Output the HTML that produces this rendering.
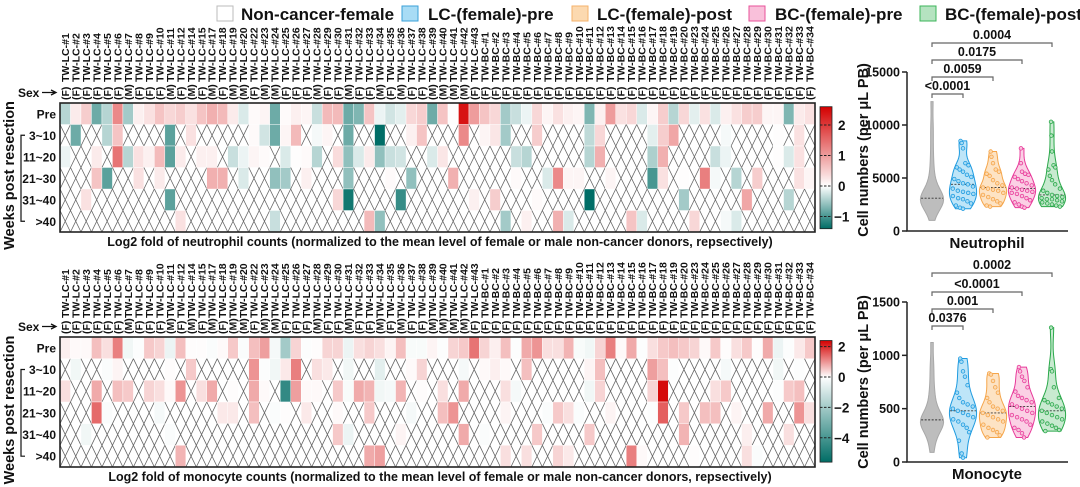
<!DOCTYPE html>
<html><head><meta charset="utf-8">
<style>
html,body{margin:0;padding:0;background:#fff;}
svg{display:block;font-family:"Liberation Sans",Arial,sans-serif;}
text{font-weight:bold;fill:#111;}
</style></head>
<body>
<svg id="fig" width="1080" height="487" viewBox="0 0 1080 487" xmlns="http://www.w3.org/2000/svg">
  <g id="legend">
    <g><rect x="217" y="6" width="16" height="15" fill="#fff" stroke="#bbb"/><text x="241" y="20" font-size="17">Non-cancer-female</text></g>
    <g><rect x="402" y="6" width="16" height="15" fill="#a8dcf5" stroke="#3aa0d8"/><text x="428" y="20" font-size="17">LC-(female)-pre</text></g>
    <g><rect x="572" y="6" width="16" height="15" fill="#fcd9b0" stroke="#f5b26b"/><text x="597" y="20" font-size="17">LC-(female)-post</text></g>
    <g><rect x="749" y="6" width="16" height="15" fill="#f9c0da" stroke="#e8529a"/><text x="775" y="20" font-size="17">BC-(female)-pre</text></g>
    <g><rect x="920" y="6" width="16" height="15" fill="#b5e3c0" stroke="#3cb55a"/><text x="945" y="20" font-size="17">BC-(female)-post</text></g>
  </g>
  <g id="hm1"></g>
  <g id="hm2"></g>
  <g id="v1"></g>
  <g id="v2"></g>
</svg>
<script>
// ---------- categories ----------
const lcIds=[1,2,3,4,5,6,7,8,9,10,11,12,14,15,17,18,19,20,22,23,24,25,26,27,28,29,30,31,32,33,34,35,36,37,38,39,40,41,42,43];
const bcIds=[1,2,3,4,5,6,7,8,9,10,11,12,13,14,15,16,17,18,19,20,23,24,25,26,27,28,29,30,31,32,33,34];
const lcSex="FFFFFFMFFFMFMFMFMMFMMFFFMFFMFFMFMFFMMMMF";
const rowLabels=["Pre","3~10","11~20","21~30","31~40",">40"];
// ---------- neutrophil heatmap values [columnIndex, log2fold] ----------
const neuPre=[[0,-0.4],[1,0.2],[2,0.5],[3,-0.8],[4,-0.4],[5,1.2],[6,-0.5],[7,0.15],[8,0.3],[9,0.6],[10,0.4],[11,0.5],[12,0.3],[13,0.6],[14,0.8],[15,0.7],[16,0.2],[17,-0.2],[18,0.05],[19,0.1],[20,-0.8],[21,0.05],[22,0.15],[23,0.1],[24,-0.3],[25,0.7],[26,0.7],[27,-0.8],[28,-0.7],[29,0.6],[30,-0.1],[31,-0.25],[32,-0.15],[33,0.4],[34,0.5],[35,-0.8],[36,0.6],[37,0.02],[38,2.4],[39,1.0],[40,0.6],[41,0.4],[42,-0.5],[43,-0.3],[44,-0.1],[45,0.4],[46,0.1],[47,0.3],[48,0.15],[49,0.1],[50,-0.7],[51,0.15],[52,1.0],[53,0.3],[54,0.4],[55,-0.2],[56,0.1],[57,0.5],[58,-0.4],[59,0.4],[60,-0.15],[61,0.3],[62,-0.2],[63,0.15],[64,0.3],[65,0.5],[66,0.5],[67,0.1],[68,0.1],[69,-0.7],[70,0.2],[71,0.3]];
const neuW3=[[1,-0.8],[4,-0.4],[5,0.6],[10,-0.9],[12,0.3],[18,0.05],[19,-0.25],[20,-0.8],[21,0.1],[22,0.7],[24,-0.05],[25,0.1],[27,-0.8],[30,-1.7],[33,0.15],[34,0.6],[38,1.2],[40,0.1],[41,0.25],[42,-0.5],[45,0.5],[50,-0.35],[51,0.4],[56,-0.15],[57,0.5],[58,0.9],[63,-0.05],[68,0.02],[70,0.3]];
const neuW11=[[0,-0.1],[3,0.2],[5,1.4],[6,-0.4],[7,0.3],[8,0.15],[9,0.7],[10,-0.9],[11,0.2],[13,0.15],[14,0.15],[16,-0.3],[17,-0.1],[18,0.1],[19,0.05],[21,-0.2],[22,0.02],[23,0.05],[24,-0.4],[26,0.35],[27,-0.6],[28,-0.2],[29,0.2],[30,-0.6],[31,-0.3],[32,-0.25],[35,-0.2],[36,0.25],[43,-0.3],[44,-0.4],[50,-0.4],[51,0.8],[56,-0.45],[57,0.8],[62,-0.3],[63,-0.1],[68,0.02],[69,-0.2],[70,0.3]];
const neuW21=[[3,0.6],[4,-0.9],[7,0.3],[9,0.2],[14,0.8],[15,0.8],[17,-0.2],[20,-0.6],[21,-0.5],[23,0.15],[27,-0.6],[31,0.05],[33,-0.6],[37,0.8],[43,0.05],[46,-0.2],[47,1.2],[48,0.1],[49,0.1],[52,0.1],[56,-1.0],[57,0.3],[59,0.02],[61,1.3],[62,-0.05],[64,-0.4],[66,0.5],[70,0.3],[71,0.1]];
const neuW31=[[2,0.3],[10,-0.9],[26,0.4],[27,-1.3],[32,-1.1],[39,0.15],[41,0.5],[45,0.05],[50,-1.4],[59,-0.5],[65,0.9],[69,-0.4]];
const neuW40=[[11,0.3],[20,-0.3],[29,0.7],[30,-0.6],[42,-0.5],[44,0.15],[47,0.8],[48,-0.2],[54,0.6],[55,-0.2],[60,0.4],[63,-0.05],[64,-0.2]];
// ---------- monocyte heatmap values ----------
const monPre=[[0,0.15],[1,0.05],[2,0.05],[3,0.6],[4,0.3],[5,1.2],[6,-0.3],[7,-0.05],[8,0.5],[9,0.4],[10,-0.4],[11,0.6],[12,0.02],[13,0.02],[14,-0.1],[15,0.05],[16,0.5],[17,-0.1],[18,0.6],[19,0.9],[20,-0.2],[21,-2.0],[22,0.4],[23,-0.05],[24,0.02],[25,0.4],[26,0.4],[27,-0.4],[28,0.3],[29,0.4],[30,0.3],[31,0.1],[32,0.6],[33,-0.15],[34,-0.15],[35,0.1],[36,-0.05],[37,0.4],[38,0.5],[39,1.3],[40,0.4],[41,0.15],[42,0.6],[43,-0.05],[44,0.8],[45,1.0],[46,0.3],[47,0.3],[48,0.7],[49,-0.15],[50,-0.3],[51,0.4],[52,1.2],[53,0.05],[54,0.8],[55,-0.05],[56,0.3],[57,0.5],[58,0.6],[59,0.5],[60,0.4],[61,0.05],[62,0.5],[63,0.02],[64,0.3],[65,0.5],[66,0.02],[67,0.8],[68,-0.4],[69,-0.05],[70,0.2],[71,0.5]];
const monW3=[[1,-0.3],[4,-0.1],[5,0.1],[10,0.02],[12,0.5],[18,1.0],[19,-0.05],[20,-0.3],[21,0.2],[22,1.2],[24,0.3],[25,0.2],[27,-0.3],[30,-0.6],[33,0.05],[34,0.4],[38,-0.2],[40,0.05],[41,0.15],[42,0.05],[44,0.6],[50,0.1],[51,0.6],[56,0.9],[57,0.6],[58,-0.05],[63,-0.2],[68,-0.3],[70,-0.05]];
const monW11=[[0,0.3],[3,0.8],[5,0.6],[6,0.5],[8,0.4],[9,0.3],[10,0.05],[11,1.0],[13,0.3],[14,0.8],[16,0.02],[18,0.8],[19,0.05],[21,-4.5],[22,0.9],[23,0.05],[24,0.05],[26,0.5],[27,-0.15],[28,0.8],[29,0.7],[30,-0.3],[31,-0.2],[32,0.7],[34,0.02],[36,0.3],[38,0.8],[42,0.3],[43,-0.2],[50,-0.3],[51,0.4],[56,0.4],[57,2.3],[62,0.3],[63,0.5],[68,-0.05],[69,0.5],[70,0.6]];
const monW21=[[3,1.4],[4,-0.1],[9,-0.2],[15,0.2],[16,0.2],[18,0.6],[20,-0.1],[21,0.02],[23,0.2],[26,0.05],[29,0.5],[33,-0.2],[36,0.6],[37,1.0],[42,0.1],[46,-0.1],[47,0.5],[48,0.3],[49,-0.1],[52,0.1],[56,-0.05],[57,1.5],[59,0.5],[61,0.6],[62,0.6],[64,0.1],[67,0.8],[70,1.0],[71,0.3]];
const monW31=[[2,-0.3],[10,-0.1],[26,0.5],[27,-0.4],[32,0.1],[38,0.8],[40,-0.1],[45,0.5],[50,0.5],[59,0.7],[65,0.15],[69,0.3]];
const monW40=[[11,0.7],[29,0.8],[30,0.9],[42,0.3],[44,0.3],[47,0.4],[48,0.2],[54,1.2],[55,0.05],[60,0.02],[65,0.3],[66,-0.1]];
// ---------- violin data ----------
const groups=["Non-cancer-female","LC-pre","LC-post","BC-pre","BC-post"];
const neuGrey=[1000,1500,1800,2000,2200,2300,2400,2500,2600,2650,2700,2750,2800,2850,2900,2950,3000,3000,3050,3100,3150,3200,3300,3400,3500,3600,3700,3800,4000,4200,4500,4800,5200,5800,6500,7500,8800,10000,12200];
const neuLCpre=[8500,8300,7800,6400,6200,6000,5800,5600,5300,5100,4900,4700,4500,4400,4200,4000,3800,3700,3600,3500,3300,3100,3000,2800,2600,2400,2200,2100];
const neuLCpost=[7500,7000,6400,5800,5600,5400,5200,4800,4500,4300,4100,4000,3900,3800,3600,3400,3200,3000,2800,2600,2400,2300];
const neuBCpre=[7800,6400,5600,5400,5300,5100,4900,4700,4500,4300,4100,4000,3900,3800,3700,3600,3500,3300,3100,2900,2700,2500,2300,2200];
const neuBCpost=[10300,9000,7500,6200,6000,5800,5200,4800,4400,4000,3800,3600,3400,3300,3200,3100,3000,3000,2900,2800,2700,2600,2500,2400,2300];
const monGrey=[90,150,200,230,260,280,300,310,320,330,340,350,360,370,375,380,385,390,395,400,410,420,430,440,460,480,500,530,560,600,650,700,780,860,950,1120];
const monLCpre=[970,940,850,800,720,650,600,560,540,520,500,480,460,440,420,400,380,350,320,280,200,80,40];
const monLCpost=[830,820,760,700,650,600,560,520,500,480,460,440,420,400,380,350,320,300,280,250,230];
const monBCpre=[890,850,800,760,700,660,620,600,580,560,540,520,500,480,460,440,420,400,380,350,320,300,270,230];
const monBCpost=[1260,870,850,700,600,580,560,540,520,500,480,460,440,420,400,380,360,340,320,300,290];
const neuTicks=[0,5000,10000,15000];
const monTicks=[0,500,1000,1500];
const neuP=["<0.0001","0.0059","0.0175","0.0004"];
const monP=["0.0376","0.001","<0.0001","0.0002"];

const NS="http://www.w3.org/2000/svg";
function mk(tag,attrs,parent){const e=document.createElementNS(NS,tag);for(const k in attrs)e.setAttribute(k,attrs[k]);parent.appendChild(e);return e;}
function txt(s,attrs,parent){const e=mk("text",attrs,parent);e.textContent=s;return e;}

function colorFor(v,vmin,vmax){
  let r,g,b;
  if(v>=0){const t=Math.min(1,v/vmax);r=255-(255-212)*t;g=255-255*t;b=255-255*t;}
  else{const t=Math.min(1,v/vmin);r=255-255*t;g=255-(255-109)*t;b=255-(255-102)*t;}
  return `rgb(${r|0},${g|0},${b|0})`;
}

function heatmap(gid,top,bottom,rows,vmin,vmax,cbTicks,cbZeroY,cbScale,labelTop,sexY,title){
  const g=document.getElementById(gid);
  const x0=60,x1=815,nC=lcIds.length+bcIds.length,cw=(x1-x0)/nC,rh=(bottom-top)/6;
  const colX=i=>x0+i*cw;
  const rowY=r=>top+r*rh;
  const names=lcIds.map(n=>"TW-LC-#"+n).concat(bcIds.map(n=>"TW-BC-#"+n));
  const sexes=lcSex.split("").concat(bcIds.map(()=>"F"));
  names.forEach((n,i)=>{
    const t=txt(n,{x:0,y:0,"font-size":"10.5",transform:`translate(${colX(i)+cw/2+3.7},${labelTop}) rotate(-90)`},g);
    
    
    const s=txt("("+sexes[i]+")",{x:0,y:0,"font-size":"10.5",transform:`translate(${colX(i)+cw/2+3.7},${sexY}) rotate(-90)`},g);
    
    
  });
  const sx=txt("Sex",{x:18,y:sexY-3,"font-size":"12"},g);
  
  
  const ar=mk("path",{d:`M42 ${sexY-7.5} L55 ${sexY-7.5} M51 ${sexY-10} L56 ${sexY-7.5} L51 ${sexY-5}`,stroke:"#111","stroke-width":"1.3",fill:"none"},g);
  
  
  rows.forEach((row,r)=>{
    const filled={};row.forEach(p=>filled[p[0]]=p[1]);
    for(let c=0;c<nC;c++){
      const x=colX(c),y=rowY(r);
      if(filled[c]===undefined){
        const p=mk("path",{d:`M${x} ${y} L${x+cw} ${y+rh} M${x+cw} ${y} L${x} ${y+rh}`,stroke:"#666","stroke-width":"0.8",fill:"none"},g);
        
        
      }else{
        const rc=mk("rect",{x:x,y:y,width:cw,height:rh,fill:colorFor(filled[c],vmin,vmax),stroke:"#fff","stroke-width":"0.4"},g);
        
        
      }
    }
    const rl=txt(rowLabels[r],{x:56,y:rowY(r)+rh/2+4.5,"font-size":"12","text-anchor":"end"},g);
    
    
  });
  const fr=mk("rect",{x:x0,y:top,width:x1-x0,height:bottom-top,fill:"none",stroke:"#222","stroke-width":"1.6"},g);
  
  
  const br=mk("path",{d:`M25 ${rowY(1)+rh/2} L21 ${rowY(1)+rh/2} L21 ${rowY(5)+rh/2} L25 ${rowY(5)+rh/2}`,stroke:"#111","stroke-width":"1.2",fill:"none"},g);
  
  
  const wt=txt("Weeks post resection",{x:0,y:0,"font-size":"14.5","text-anchor":"middle",transform:`translate(14,${(top+bottom)/2+8}) rotate(-90)`},g);
  
  
  const xt=txt(title,{x:440,y:bottom+14,"font-size":"12.5","text-anchor":"middle"},g);
  
  
  const gradId=gid+"grad";
  const defs=mk("defs",{},g);
  const lg=mk("linearGradient",{id:gradId,x1:0,y1:0,x2:0,y2:1},defs);
  const cbTop=cbZeroY-vmax*cbScale, cbBot=cbZeroY-vmin*cbScale;
  for(let i=0;i<=20;i++){const v=vmax-(vmax-vmin)*i/20;mk("stop",{offset:(i/20),"stop-color":colorFor(v,vmin,vmax)},lg);}
  const cb=mk("rect",{x:820,y:cbTop,width:12,height:cbBot-cbTop,fill:`url(#${gradId})`,stroke:"#222","stroke-width":"0.8"},g);
  
  
  cbTicks.forEach(v=>{
    const y=cbZeroY-v*cbScale;
    mk("line",{x1:820,x2:832,y1:y,y2:y,stroke:"#222","stroke-width":"1","stroke-dasharray":"2.5,1.5"},g);
    const t=txt(String(v).replace("-","\u2212"),{x:v<0?834:838,y:y+5,"font-size":"13.5"},g);
    
    
  });
}

heatmap("hm1",103,232,[neuPre,neuW3,neuW11,neuW21,neuW31,neuW40],-1.4,2.6,[2,1,0,-1],186,30.5,82,100,
 "Log2 fold of neutrophil counts (normalized to the mean level of female or male non-cancer donors, repsectively)");
heatmap("hm2",337,467,[monPre,monW3,monW11,monW21,monW31,monW40],-5.6,2.4,[2,0,-2,-4],377,15.2,318,334,
 "Log2 fold of monocyte counts (normalized to the mean level of female or male non-cancer donors, repsectively)");

const fills=["#bdbdbd","#a8dcf5","#fcd9b0","#f9c0dc","#b5e3c0"];
const strokes=["#a8a8a8","#1e9be0","#f5a54a","#e8399a","#2aa84a"];
const centers=[932,963,993,1022,1052];

function violin(gid,sets,ticks,yZero,yTop,maxV,pvals,bracketY,cellName,axTitleY){
  const g=document.getElementById(gid);
  const y=v=>yZero-(v/maxV)*(yZero-yTop);
  const ax=mk("path",{d:`M907 ${y(maxV)} L907 ${yZero} L1068 ${yZero}`,stroke:"#222","stroke-width":"1.5",fill:"none"},g);
  
  
  ticks.forEach(t=>{
    mk("line",{x1:902,x2:907,y1:y(t),y2:y(t),stroke:"#222","stroke-width":"1.5"},g);
    const tl=txt(String(t),{x:900,y:y(t)+4.5,"font-size":"12.5","text-anchor":"end"},g);
    
    
  });
  const at=txt("Cell numbers (per \u03bcL PB)",{x:0,y:0,"font-size":"14.5","text-anchor":"middle",transform:`translate(868,${axTitleY}) rotate(-90)`},g);
  
  
  const ct=txt(cellName,{x:987,y:yZero+17,"font-size":"15","text-anchor":"middle"},g);
  
  
  sets.forEach((vals,k)=>{
    const cx=centers[k];
    const mn=Math.min(...vals),mx=Math.max(...vals);
    const bw=(mx-mn)/(k===0?14:9);
    const N=40,dens=[];
    for(let i=0;i<=N;i++){const v=mn+(mx-mn)*i/N;let d=0;vals.forEach(u=>{const z=(v-u)/bw;d+=Math.exp(-0.5*z*z);});dens.push([v,d]);}
    const dm=Math.max(...dens.map(d=>d[1]));
    const hw=k===0?11:13;
    let dpath="";
    dens.forEach((d,i)=>{dpath+=(i?"L":"M")+(cx+d[1]/dm*hw+0.6)+" "+y(d[0])+" ";});
    for(let i=N;i>=0;i--){const d=dens[i];dpath+="L"+(cx-d[1]/dm*hw-0.6)+" "+y(d[0])+" ";}
    const vp=mk("path",{d:dpath+"Z",fill:fills[k],"fill-opacity":k===0?1:0.75,stroke:strokes[k],"stroke-width":"1"},g);
    
    
    const sorted=vals.slice().sort((a,b)=>a-b);const med=sorted[Math.floor(sorted.length/2)];
    const wAt=v=>{let d=0;vals.forEach(u=>{const z=(v-u)/bw;d+=Math.exp(-0.5*z*z);});return d/dm*hw;};
    mk("line",{x1:cx-wAt(med),x2:cx+wAt(med),y1:y(med),y2:y(med),stroke:"#333","stroke-width":"0.9","stroke-dasharray":"2,1.5"},g);
    if(k>0){
      vals.forEach((v,i)=>{
        const w=wAt(v)*0.8;const off=((i%5)-2)/2*w;
        const c=mk("circle",{cx:cx+off,cy:y(v),r:1.8,fill:fills[k],stroke:strokes[k],"stroke-width":"0.8"},g);
        
        
      });
    }
  });
  pvals.forEach((p,i)=>{
    const by=bracketY[i],x2=centers[i+1];
    const b=mk("path",{d:`M${centers[0]} ${by+4} L${centers[0]} ${by} L${x2} ${by} L${x2} ${by+4}`,stroke:"#666","stroke-width":"1.2",fill:"none"},g);
    
    
    const t=txt(p,{x:(centers[0]+x2)/2,y:by-4,"font-size":"12.5","text-anchor":"middle"},g);
    
    
  });
}
violin("v1",[neuGrey,neuLCpre,neuLCpost,neuBCpre,neuBCpost],neuTicks,231,72,15000,neuP,[94,77,60,43],"Neutrophil",150);
violin("v2",[monGrey,monLCpre,monLCpost,monBCpre,monBCpost],monTicks,462,302,1500,monP,[326,309,292,273],"Monocyte",382);
</script>
</body></html>
